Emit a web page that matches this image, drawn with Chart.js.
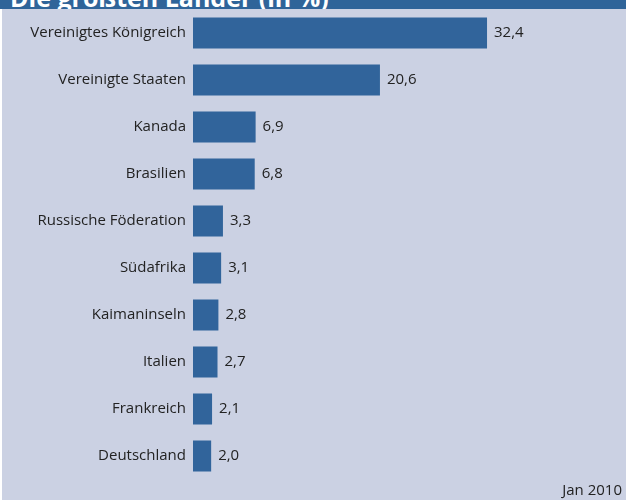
<!DOCTYPE html>
<html>
<head>
<meta charset="utf-8">
<script src="https://cdn.jsdelivr.net/npm/chart.js@4.4.0/dist/chart.umd.min.js"></script>
<style>
  body { margin: 0; background: #fff; }
  #wrap { position: relative; width: 626px; height: 500px; background: #cbd1e3; overflow: hidden; }
  #title {
    position: absolute; left: 0; top: 0; width: 626px; height: 9px;
    background: #2f6499; overflow: hidden; z-index: 2;
  }
  #title span {
    position: absolute; left: 10px; top: -20px;
    font: bold 25px "Open Sans", sans-serif; color: #fff; white-space: nowrap;
  }
  #edge { position: absolute; left: 0; top: 9px; width: 2px; height: 491px; background: #fff; z-index: 2; }
  #source {
    position: absolute; right: 4px; top: 479px;
    font: 15px "Open Sans", sans-serif; color: #222;
  }
  canvas { position: absolute; left: 0; top: 0; }
</style>
</head>
<body>
<div id="wrap">
  <div id="title"><span>Die größten Länder (in %)</span></div>
  <div id="edge"></div>
  <canvas id="chart" width="626" height="500"></canvas>
  <div id="source">Jan 2010</div>
</div>
<script>
const countries = ["Vereinigtes Königreich", "Vereinigte Staaten", "Kanada", "Brasilien", "Russische Föderation",
  "Südafrika", "Kaimaninseln", "Italien", "Frankreich", "Deutschland"];
const shares = [32.4, 20.6, 6.9, 6.8, 3.3, 3.1, 2.8, 2.7, 2.1, 2.0];

const fmt = v => v.toFixed(1).replace(".", ",");

// draws the value right of each bar
const valueLabels = {
  id: "valueLabels",
  afterDatasetsDraw(chart) {
    const ctx = chart.ctx;
    const meta = chart.getDatasetMeta(0);
    ctx.save();
    ctx.font = '15px "Open Sans", sans-serif';
    ctx.fillStyle = "#222";
    ctx.textBaseline = "middle";
    meta.data.forEach((bar, i) => {
      ctx.fillText(fmt(shares[i]), bar.x + 7, bar.y);
    });
    ctx.restore();
  }
};

const chartCanvas = document.getElementById("chart").getContext("2d");
new Chart(chartCanvas, {
  type: "bar",
  data: {
    labels: countries,
    datasets: [{
      data: shares,
      backgroundColor: "#31649b",
      borderWidth: 0,
      categoryPercentage: 1,
      barPercentage: 31 / 47
    }]
  },
  options: {
    indexAxis: "y",
    responsive: false,
    animation: false,
    layout: { padding: { top: 9.5, bottom: 20.5, left: 0, right: 70 } },
    plugins: { legend: { display: false }, tooltip: { enabled: false } },
    scales: {
      x: { display: false, min: 0, max: 40 },
      y: {
        grid: { display: false, drawTicks: false },
        border: { display: false },
        ticks: { color: "#222", font: { family: "Open Sans", size: 15 }, padding: 7 },
        afterFit(scale) {
          scale.width = 193;
          scale.paddingTop = 0;
          scale.paddingBottom = 0;
        }
      }
    }
  },
  plugins: [valueLabels]
});
</script>
</body>
</html>
